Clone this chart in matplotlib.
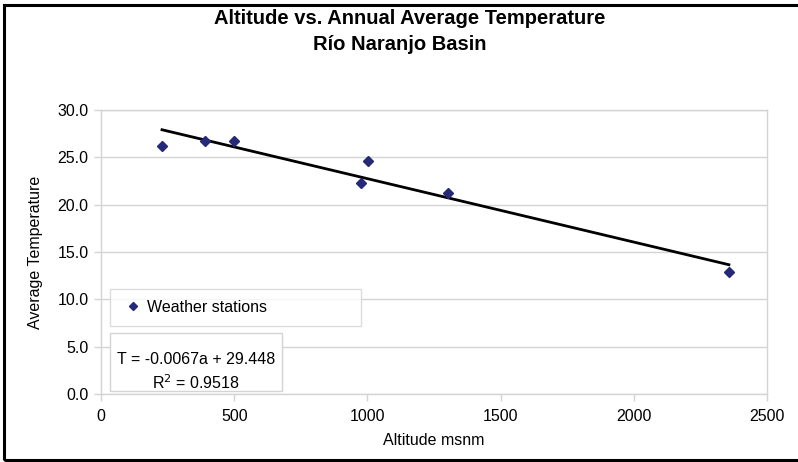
import numpy as np
import matplotlib.pyplot as plt
from matplotlib.patches import Rectangle

plt.rcParams['font.family'] = ['Liberation Sans', 'DejaVu Sans']

# %%
# datos de las estaciones
altitude = [229, 390, 499, 976, 1002, 1302, 2357]
temperature = [26.2, 26.7, 26.7, 22.3, 24.6, 21.2, 12.9]

# recta de tendencia (del texto del grafico)
slope = -0.0067
intercept = 29.448
r2 = 0.9518

xticks = [0, 500, 1000, 1500, 2000, 2500]
yticks = [0, 5, 10, 15, 20, 25, 30]

# %%
W, H = 798, 462
fs = 11.5
fig = plt.figure(figsize=(W / 100, H / 100), dpi=100)

# marco negro del grafico
fig.patches.append(Rectangle((3.5 / W, 2.5 / H), 1.0, (457 - 2.5) / H,
                             transform=fig.transFigure, fill=False,
                             edgecolor='black', linewidth=2.2))

ax = fig.add_axes([101 / W, 1 - 394 / H, (767 - 101) / W, (394 - 110) / H])

grid_c = '#d4d4d4'
ax.set_xlim(0, 2500)
ax.set_ylim(0, 30)
ax.set_xticks(xticks)
ax.set_yticks(yticks)
ax.set_yticklabels(['%.1f' % v for v in yticks])
ax.yaxis.grid(True, color=grid_c, linewidth=1)
ax.set_axisbelow(True)
for s in ax.spines.values():
    s.set_color(grid_c)
    s.set_linewidth(1)
ax.tick_params(colors='black', labelsize=fs, length=5, width=1, pad=4)
ax.tick_params(axis='both', color=grid_c)
ax.tick_params(axis='x', pad=6)

# tendencia
xt = np.array([min(altitude), max(altitude)])
ax.plot(xt, slope * xt + intercept, color='black', linewidth=2, zorder=2)

ax.plot(altitude, temperature, linestyle='none', marker='D', markersize=5.6,
        color='#262878', label='Weather stations', zorder=3)

ax.set_xlabel('Altitude msnm', fontsize=fs, labelpad=6)
ax.set_ylabel('Average Temperature', fontsize=fs, labelpad=10)

fig.text(410 / W, 1 - 18 / H, 'Altitude vs. Annual Average Temperature',
         ha='center', va='center', fontsize=14.5, fontweight='bold')
fig.text(400 / W, 1 - 45 / H, 'Río Naranjo Basin',
         ha='center', va='center', fontsize=14.5, fontweight='bold')

# leyenda
leg = ax.legend(loc='lower left', mode='expand',
                bbox_to_anchor=(110 / W, 1 - 326 / H, 251 / W, 37 / H),
                bbox_transform=fig.transFigure, fontsize=fs, frameon=True,
                fancybox=False, borderpad=0.7, borderaxespad=0,
                handletextpad=0.1, handlelength=1.5, markerscale=0.8)
leg.get_frame().set_edgecolor(grid_c)
leg.get_frame().set_linewidth(1)

# caja de la ecuacion
fig.patches.append(Rectangle((110 / W, 1 - 391 / H), 172 / W, 58 / H,
                             transform=fig.transFigure, facecolor='white',
                             edgecolor=grid_c, linewidth=1, zorder=5))
fig.text(196 / W, 1 - 360 / H, 'T = %.4fa + %.3f' % (slope, intercept),
         ha='center', va='center', fontsize=fs, zorder=6)
fig.text(196 / W, 1 - 383 / H, 'R$^2$ = %.4f' % r2,
         ha='center', va='center', fontsize=fs, zorder=6)

fig.savefig('out.png', dpi=100)
